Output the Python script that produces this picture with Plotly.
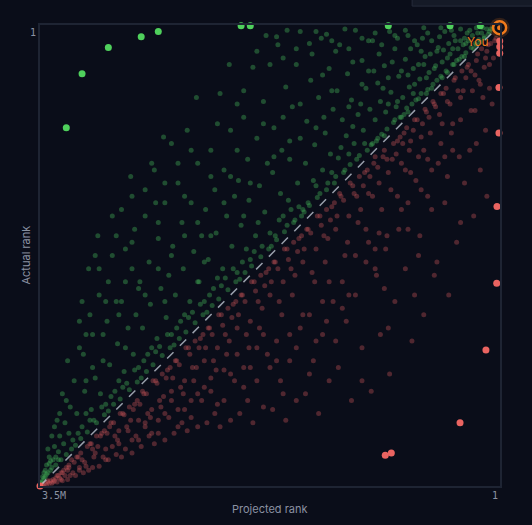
import plotly.graph_objects as go

# ranks in millions (0 = rank 1, 3.5 = rank 3.5M)
RANK_MAX = 3.5

green_pts = [
    (0.05,0.02),(0.08,0.05),(0.10,0.03),(0.12,0.09),(0.14,0.06),(0.16,0.11),(0.18,0.02),(0.19,0.14),(0.21,0.08),(0.22,0.17),(0.24,0.12),(0.23,0.04),
    (0.26,0.21),(0.27,0.10),(0.29,0.24),(0.30,0.03),(0.32,0.18),(0.33,0.27),(0.35,0.08),(0.36,0.30),(0.38,0.22),(0.39,0.14),(0.41,0.35),(0.42,0.05),(0.44,0.28),(0.45,0.39),(0.47,0.17),(0.48,0.42),(0.49,0.31),
    (0.51,0.45),(0.52,0.12),(0.54,0.36),(0.55,0.49),(0.57,0.24),(0.58,0.02),(0.60,0.52),(0.61,0.41),(0.63,0.15),(0.64,0.57),(0.66,0.33),(0.67,0.60),(0.69,0.47),(0.70,0.08),(0.71,0.63),(0.72,0.26),(0.74,0.55),(0.73,0.68),
    (0.76,0.70),(0.77,0.39),(0.79,0.62),(0.80,0.18),(0.81,0.74),(0.83,0.51),(0.84,0.05),(0.86,0.79),(0.87,0.66),(0.88,0.31),(0.90,0.83),(0.91,0.58),(0.93,0.44),(0.94,0.88),(0.95,0.72),(0.97,0.12),(0.98,0.91),(0.99,0.64),(0.92,0.22),(0.85,0.60),
    (1.01,0.95),(1.02,0.48),(1.04,0.80),(1.05,0.27),(1.07,0.99),(1.08,0.68),(1.10,0.04),(1.11,0.90),(1.13,0.57),(1.14,1.06),(1.16,0.37),(1.17,0.84),(1.19,1.12),(1.20,0.72),(1.22,0.15),(1.23,1.01),(1.24,0.50),(1.12,0.77),(1.06,0.60),(1.21,0.93),
    (1.26,1.20),(1.27,0.64),(1.29,0.98),(1.30,0.33),(1.32,1.25),(1.33,0.82),(1.35,1.10),(1.36,0.10),(1.38,0.55),(1.39,1.31),(1.41,0.91),(1.42,1.18),(1.44,0.42),(1.45,1.37),(1.47,0.73),(1.48,1.05),(1.49,1.42),(1.34,0.70),(1.43,0.22),(1.28,1.12),
    (1.51,1.45),(1.52,0.86),(1.54,1.20),(1.55,0.30),(1.57,1.50),(1.58,0.62),(1.60,1.02),(1.61,1.33),(1.63,0.47),(1.64,1.57),(1.66,0.95),(1.67,1.28),(1.69,0.15),(1.70,1.63),(1.72,0.78),(1.73,1.12),(1.74,1.68),(1.59,1.40),(1.68,1.48),(1.62,0.04),
    (1.76,1.70),(1.77,1.05),(1.79,1.42),(1.80,0.58),(1.82,1.76),(1.83,1.22),(1.85,0.86),(1.86,1.60),(1.88,0.32),(1.89,1.83),(1.91,1.33),(1.92,1.02),(1.94,1.88),(1.95,0.70),(1.97,1.52),(1.98,1.93),(1.99,1.18),(1.84,1.50),(1.93,1.70),(1.78,0.08),
    (2.01,1.95),(2.02,1.30),(2.04,1.68),(2.05,0.80),(2.07,2.01),(2.08,1.45),(2.10,1.10),(2.11,1.85),(2.13,0.52),(2.14,2.08),(2.16,1.58),(2.17,1.25),(2.19,2.13),(2.20,0.95),(2.22,1.78),(2.23,2.18),(2.24,1.40),(2.09,1.92),(2.18,2.00),(2.06,0.30),
    (2.26,2.20),(2.27,1.60),(2.29,1.95),(2.30,1.05),(2.32,2.26),(2.33,1.72),(2.35,1.35),(2.36,2.10),(2.38,0.80),(2.39,2.33),(2.41,1.85),(2.42,1.50),(2.44,2.38),(2.45,1.20),(2.47,2.05),(2.48,2.43),(2.49,1.68),(2.34,2.18),(2.43,2.25),(2.31,0.55),
    (2.51,2.45),(2.52,1.90),(2.54,2.22),(2.55,1.35),(2.57,2.51),(2.58,2.00),(2.60,1.62),(2.61,2.38),(2.63,1.10),(2.64,2.58),(2.66,2.12),(2.67,1.80),(2.69,2.63),(2.70,1.45),(2.72,2.30),(2.73,2.68),(2.74,1.95),(2.59,2.44),(2.68,2.50),(2.56,0.85),
    (2.76,2.71),(2.77,2.20),(2.79,2.50),(2.80,1.65),(2.82,2.77),(2.83,2.30),(2.85,1.95),(2.86,2.63),(2.88,1.40),(2.89,2.84),(2.91,2.42),(2.92,2.10),(2.94,2.88),(2.95,1.75),(2.97,2.58),(2.98,2.93),(2.99,2.25),(2.84,2.72),(2.93,2.78),(2.81,1.15),
    (3.01,2.96),(3.02,2.55),(3.04,2.80),(3.05,2.05),(3.07,3.02),(3.08,2.68),(3.10,2.35),(3.11,2.92),(3.13,1.85),(3.14,3.09),(3.16,2.78),(3.17,2.50),(3.19,3.14),(3.20,2.25),(3.22,2.95),(3.23,3.19),(3.24,2.70),(3.09,3.00),(3.18,3.05),(3.06,1.60),
    (3.26,3.22),(3.27,2.90),(3.28,3.10),(3.29,2.55),(3.30,3.26),(3.31,3.02),(3.32,3.18),(3.33,2.80),(3.34,3.30),(3.35,3.12),(3.36,3.24),(3.37,3.00),(3.38,3.34),(3.39,3.20),(3.40,3.30),(3.41,3.12),(3.42,3.38),(3.43,3.28),(3.44,3.40),(3.45,3.34),(3.46,3.43),(3.47,3.40),(3.48,3.46),(3.44,3.22),(3.39,3.05),(3.35,2.95),(3.49,3.47),
    # denser top-right area
    (0.04,0.01),(0.07,0.03),(0.09,0.07),(0.13,0.02),(0.15,0.13),(0.17,0.06),(0.20,0.18),(0.25,0.06),(0.28,0.15),(0.31,0.26),(0.34,0.12),(0.37,0.04),(0.40,0.25),(0.43,0.19),(0.46,0.09),
    (0.50,0.33),(0.53,0.22),(0.56,0.40),(0.59,0.10),(0.62,0.30),(0.65,0.45),(0.68,0.18),(0.75,0.35),(0.78,0.10),(0.82,0.28),(0.89,0.48),(0.96,0.35),(0.30,0.12),(0.45,0.02),(0.60,0.20),
    (0.55,0.06),(0.65,0.12),(0.80,0.08),(0.90,0.15),(1.05,0.10),(1.15,0.18),(1.28,0.12),(1.40,0.05),(1.55,0.18),(1.75,0.30),(0.85,0.40),(1.00,0.35),(1.12,0.28),(0.70,0.38),(0.58,0.30),
    (0.48,0.20),(0.36,0.18),(0.26,0.14),(0.66,0.52),(0.78,0.58),(0.12,0.10),(0.18,0.15),(0.27,0.24),(0.35,0.30),(0.44,0.40),(0.52,0.48),(0.62,0.56),(0.70,0.66),(0.80,0.72),(0.88,0.84),
    (0.97,0.90),(0.40,0.36),(0.56,0.52),(0.75,0.70),(0.93,0.86),
    # close to the diagonal
    (1.03,0.90),(1.09,1.02),(1.15,0.98),(1.18,1.10),(1.25,1.15),(1.31,1.20),(1.37,1.28),(1.40,1.22),(1.46,1.35),(1.50,1.40),(1.53,1.38),(1.56,1.48),(1.62,1.52),(1.65,1.45),(1.71,1.60),(1.75,1.58),
    (1.81,1.68),(1.87,1.72),(1.90,1.78),(1.96,1.80),(2.00,1.88),(2.03,1.85),(2.12,1.98),(2.15,1.92),(2.21,2.05),(2.25,2.10),(2.28,2.12),(2.37,2.22),(2.40,2.20),(2.46,2.30),(2.50,2.35),
    (2.53,2.35),(2.62,2.48),(2.65,2.45),(2.71,2.55),(2.75,2.60),(2.78,2.62),(2.87,2.75),(2.90,2.70),(2.96,2.82),(3.00,2.88),(3.03,2.90),(3.12,3.00),(3.15,2.95),(3.21,3.10),(3.25,3.15),
    # mid field
    (1.05,0.45),(1.15,0.62),(1.28,0.50),(1.40,0.78),(1.52,0.60),(1.60,0.88),(1.72,1.00),(1.80,0.75),(1.90,1.20),(2.00,0.95),(2.10,1.35),(2.20,1.15),(2.30,1.50),(2.40,1.30),(2.50,1.75),
    (2.60,1.50),(2.70,2.05),(2.80,1.85),(2.90,2.20),(3.00,2.10),(3.10,2.60),(3.20,2.45),(1.35,0.38),(1.65,0.70),(1.95,1.45),(2.25,1.80),(2.55,2.10),(2.85,2.45),(3.15,2.70),(3.30,2.85),
    (0.72,0.04),(0.95,0.06),(1.18,0.03),(1.32,0.07),(1.52,0.05),(1.70,0.09),(1.00,0.12),(1.25,0.20),(1.45,0.14),(1.65,0.25),
    (2.35,0.95),(2.45,1.05),(2.55,1.20),(2.62,1.35),(2.70,1.25),(2.78,1.55),(2.85,1.70),(2.92,1.60),(2.98,1.95),(3.05,1.85),(3.12,2.20),(3.18,2.10),(2.50,0.90),(2.65,1.05),(2.80,1.30),
    (2.95,1.45),(3.08,1.75),(3.15,2.35),(2.40,1.60),(2.60,1.85),(2.75,2.00),(2.88,2.10),(3.02,2.35),(2.20,1.60),(2.30,1.95),(2.05,1.15),(2.15,0.75),(1.95,0.50),(1.85,0.20),(2.00,0.60),
    (3.38,3.28),(3.41,3.36),(3.43,3.33),(3.45,3.41),(3.46,3.38),(3.47,3.44),(3.48,3.43),(3.49,3.48),(3.42,3.31),(3.36,3.30),
]

red_pts = [
    (0.03,0.10),(0.05,0.25),(0.07,0.14),(0.08,0.48),(0.10,0.20),(0.11,0.80),(0.12,0.32),(0.14,0.18),(0.15,1.10),(0.16,0.42),(0.18,0.27),(0.19,0.65),(0.20,1.45),(0.22,0.35),(0.23,0.95),(0.24,0.30),(0.06,0.60),(0.13,0.55),(0.21,0.50),
    (0.26,0.40),(0.27,1.20),(0.29,0.35),(0.30,0.72),(0.32,0.50),(0.33,1.65),(0.35,0.42),(0.36,0.95),(0.38,0.60),(0.39,2.05),(0.41,0.48),(0.42,1.35),(0.44,0.75),(0.45,0.52),(0.47,1.05),(0.48,1.80),(0.49,0.62),(0.37,0.82),(0.31,1.00),
    (0.51,0.58),(0.52,1.40),(0.54,0.70),(0.55,1.02),(0.57,0.64),(0.58,2.20),(0.60,0.85),(0.61,1.60),(0.63,0.72),(0.64,1.18),(0.66,0.80),(0.67,2.40),(0.69,0.95),(0.70,1.35),(0.71,0.78),(0.72,1.85),(0.74,0.90),(0.62,1.00),(0.68,1.12),
    (0.76,0.85),(0.77,1.55),(0.79,0.98),(0.80,2.10),(0.81,0.90),(0.83,1.25),(0.84,2.65),(0.86,1.02),(0.87,1.70),(0.88,0.95),(0.90,1.40),(0.91,2.35),(0.93,1.08),(0.94,1.90),(0.95,1.00),(0.97,1.30),(0.98,2.78),(0.99,1.15),(0.85,1.12),(0.92,1.58),
    (1.01,1.10),(1.02,1.80),(1.04,1.22),(1.05,2.45),(1.07,1.15),(1.08,1.50),(1.10,2.05),(1.11,1.28),(1.13,2.85),(1.14,1.20),(1.16,1.65),(1.17,2.25),(1.19,1.33),(1.20,1.95),(1.22,1.28),(1.23,2.60),(1.24,1.45),(1.06,1.40),(1.18,1.75),
    (1.26,1.35),(1.27,2.10),(1.29,1.48),(1.30,2.70),(1.32,1.40),(1.33,1.80),(1.35,2.35),(1.36,1.52),(1.38,2.95),(1.39,1.45),(1.41,1.95),(1.42,2.55),(1.44,1.58),(1.45,2.20),(1.47,1.55),(1.48,2.80),(1.49,1.70),(1.31,1.62),(1.43,1.88),
    (1.51,1.60),(1.52,2.30),(1.54,1.72),(1.55,2.85),(1.57,1.65),(1.58,2.05),(1.60,2.55),(1.61,1.78),(1.63,3.00),(1.64,1.70),(1.66,2.20),(1.67,2.70),(1.69,1.85),(1.70,2.40),(1.72,1.80),(1.73,2.92),(1.74,1.95),(1.56,1.90),(1.68,2.10),
    (1.76,1.85),(1.77,2.50),(1.79,1.98),(1.80,2.90),(1.82,1.90),(1.83,2.30),(1.85,2.70),(1.86,2.02),(1.88,3.02),(1.89,1.95),(1.91,2.45),(1.92,2.85),(1.94,2.10),(1.95,2.60),(1.97,2.05),(1.98,2.95),(1.99,2.20),(1.81,2.15),(1.93,2.35),
    (2.01,2.10),(2.02,2.70),(2.04,2.22),(2.05,3.00),(2.07,2.15),(2.08,2.50),(2.10,2.85),(2.11,2.28),(2.13,3.05),(2.14,2.20),(2.16,2.62),(2.17,2.95),(2.19,2.35),(2.20,2.78),(2.22,2.30),(2.23,3.02),(2.24,2.45),(2.06,2.40),(2.18,2.55),
    (2.26,2.35),(2.27,2.85),(2.29,2.45),(2.30,3.05),(2.32,2.40),(2.33,2.70),(2.35,2.98),(2.36,2.50),(2.38,3.08),(2.39,2.45),(2.41,2.80),(2.42,3.02),(2.44,2.58),(2.45,2.92),(2.47,2.55),(2.48,3.10),(2.49,2.68),(2.31,2.60),(2.43,2.75),
    (2.51,2.60),(2.52,2.98),(2.54,2.68),(2.55,3.15),(2.57,2.65),(2.58,2.90),(2.60,3.10),(2.61,2.72),(2.63,3.18),(2.64,2.70),(2.66,2.98),(2.67,3.12),(2.69,2.80),(2.70,3.05),(2.72,2.78),(2.73,3.20),(2.74,2.88),(2.56,2.82),(2.68,2.95),
    (2.76,2.85),(2.77,3.12),(2.79,2.92),(2.80,3.25),(2.82,2.90),(2.83,3.08),(2.85,3.22),(2.86,2.96),(2.88,3.28),(2.89,2.95),(2.91,3.15),(2.92,3.26),(2.94,3.02),(2.95,3.20),(2.97,3.05),(2.98,3.30),(2.99,3.10),(2.81,3.00),(2.93,3.12),
    (3.01,3.08),(3.02,3.28),(3.04,3.12),(3.05,3.35),(3.07,3.12),(3.08,3.25),(3.10,3.36),(3.11,3.18),(3.13,3.38),(3.14,3.20),(3.16,3.32),(3.17,3.40),(3.19,3.25),(3.20,3.36),(3.22,3.28),(3.23,3.42),(3.24,3.32),(3.06,3.20),(3.18,3.30),
    (3.26,3.30),(3.27,3.42),(3.28,3.34),(3.29,3.45),(3.30,3.36),(3.31,3.42),(3.32,3.38),(3.33,3.46),(3.34,3.40),(3.35,3.44),(3.36,3.42),(3.37,3.47),(3.38,3.44),(3.39,3.46),(3.40,3.45),(3.41,3.48),(3.42,3.46),(3.43,3.48),(3.44,3.47),(3.45,3.49),(3.46,3.48),(3.47,3.49),(3.29,3.38),(3.33,3.40),
    # close to the diagonal
    (0.02,0.05),(0.04,0.12),(0.09,0.15),(0.11,0.25),(0.17,0.22),(0.19,0.38),(0.25,0.32),(0.28,0.50),(0.34,0.40),(0.40,0.58),(0.43,0.52),(0.46,0.68),(0.50,0.60),(0.53,0.82),(0.56,0.66),
    (0.59,0.75),(0.65,0.72),(0.68,0.88),(0.73,0.82),(0.75,1.05),(0.78,0.88),(0.82,1.02),(0.89,1.00),(0.92,1.20),(0.96,1.05),(1.00,1.28),(1.03,1.12),(1.09,1.30),(1.12,1.22),(1.15,1.45),
    (1.21,1.30),(1.25,1.55),(1.28,1.38),(1.34,1.60),(1.37,1.45),(1.40,1.70),(1.46,1.55),(1.50,1.80),(1.53,1.62),(1.59,1.85),(1.62,1.70),(1.65,1.95),(1.71,1.80),(1.75,2.05),(1.78,1.88),
    (1.84,2.10),(1.87,1.95),(1.90,2.25),(1.96,2.05),(2.00,2.30),(2.03,2.12),(2.09,2.35),(2.12,2.20),(2.15,2.45),(2.21,2.30),(2.25,2.55),(2.28,2.38),(2.34,2.60),(2.37,2.45),(2.40,2.70),
    (2.46,2.55),(2.50,2.78),(2.53,2.62),(2.59,2.85),(2.62,2.70),(2.65,2.92),(2.71,2.80),(2.75,3.00),(2.78,2.88),(2.84,3.05),(2.87,2.95),(2.90,3.18),(2.96,3.02),(3.00,3.22),(3.03,3.10),
    (3.09,3.28),(3.12,3.18),(3.15,3.35),(3.21,3.28),(3.25,3.40),(3.28,3.36),(3.34,3.45),(3.37,3.42),(3.40,3.47),(3.44,3.46),(3.48,3.49),
    # tail
    (0.10,1.30),(0.18,0.90),(0.30,1.50),(0.40,1.15),(0.50,1.90),(0.55,1.30),(0.65,2.05),(0.75,1.40),(0.85,2.30),(0.95,1.70),(1.05,2.70),(1.15,2.05),(1.25,2.40),(1.35,2.10),(1.45,2.65),
    (1.55,2.45),(1.65,2.80),(1.75,2.60),(1.85,2.45),(1.95,2.75),(2.05,2.65),(2.15,2.88),(2.25,2.75),(2.35,2.85),(2.45,3.05),(2.55,2.95),(2.65,3.10),(2.75,3.15),(0.62,1.75),(0.88,2.00),
    (0.08,0.30),(0.15,0.45),(0.22,0.65),(0.30,0.55),(0.36,0.75),(0.45,0.90),(0.52,1.10),(0.60,1.25),(0.70,1.55),(0.78,1.30),(0.86,1.60),(0.95,1.85),(1.02,1.55),(1.10,1.75),(1.20,2.15),
    (1.30,1.95),(1.40,2.40),(1.50,2.20),(1.60,2.35),(1.70,2.55),(1.80,2.35),(1.90,2.60),(2.00,2.50),(2.10,2.62),(2.20,2.68),(2.30,2.80),(2.40,2.92),(2.50,2.85),(2.60,3.00),(2.70,3.02),
    (2.80,3.15),(2.90,3.08),(3.00,3.30),(3.10,3.22),(3.20,3.38),(0.42,1.00),(0.58,0.95),(0.72,1.10),(1.00,1.65),(1.32,2.25),
]

# highlighted outliers
green_hi_proj = [3.30, 3.18, 2.98, 2.73, 2.60, 1.97, 1.90, 0.85, 0.38, 0.15]
green_hi_act = [0.78, 0.37, 0.17, 0.09, 0.05, 0.005, 0.005, 0.005, 0.005, 0.005]
red_hi_proj = [0.002, 0.002, 0.002, 0.008, 0.008, 0.023, 0.025, 0.107, 0.304, 0.827, 0.873, 3.5]
red_hi_act = [0.121, 0.165, 0.215, 0.475, 0.820, 1.378, 1.961, 2.467, 3.019, 3.249, 3.267, 3.5]

you_proj = [0.003]
you_act = [0.02]

BG = "#0a0d19"
FRAME = "#1e2433"
TXT = "#8a91a2"
ORANGE = "#f07a1c"

fig = go.Figure()

fig.add_trace(go.Scatter(
    x=[p[0] for p in green_pts], y=[p[1] for p in green_pts], mode="markers",
    marker=dict(size=5, color="rgba(65,175,85,0.40)", line=dict(width=0)),
    hoverinfo="skip"))
fig.add_trace(go.Scatter(
    x=[p[0] for p in red_pts], y=[p[1] for p in red_pts], mode="markers",
    marker=dict(size=5, color="rgba(205,85,90,0.36)", line=dict(width=0)),
    hoverinfo="skip"))

# diagonal: projected == actual
fig.add_trace(go.Scatter(
    x=[RANK_MAX, 0], y=[RANK_MAX, 0], mode="lines",
    line=dict(color="rgba(200,208,220,0.75)", width=1.5, dash="dash"),
    hoverinfo="skip"))

fig.add_trace(go.Scatter(
    x=green_hi_proj, y=green_hi_act, mode="markers",
    marker=dict(size=7, color="#4fd05c"), hoverinfo="skip", cliponaxis=False))
fig.add_trace(go.Scatter(
    x=red_hi_proj, y=red_hi_act, mode="markers",
    marker=dict(size=7, color="#ea6461"), hoverinfo="skip", cliponaxis=False))

fig.add_trace(go.Scatter(
    x=you_proj, y=you_act, mode="markers",
    marker=dict(size=20, color="rgba(240,122,28,0.18)"),
    hoverinfo="skip", cliponaxis=False))
fig.add_trace(go.Scatter(
    x=you_proj, y=you_act, mode="markers",
    marker=dict(size=13, color=BG, line=dict(color=ORANGE, width=2.5)),
    hoverinfo="skip", cliponaxis=False))
fig.add_trace(go.Scatter(
    x=you_proj, y=you_act, mode="markers",
    marker=dict(size=5, color=ORANGE), hoverinfo="skip", cliponaxis=False))

fig.update_layout(
    width=532, height=525,
    margin=dict(l=40, r=32, t=25, b=39),
    paper_bgcolor=BG, plot_bgcolor=BG,
    showlegend=False,
    xaxis=dict(range=[RANK_MAX, 0], showgrid=False, zeroline=False, showticklabels=False,
               showline=True, linecolor=FRAME, linewidth=2, mirror=True),
    yaxis=dict(range=[RANK_MAX, 0], showgrid=False, zeroline=False, showticklabels=False,
               showline=True, linecolor=FRAME, linewidth=2, mirror=True),
    shapes=[dict(type="rect", xref="paper", yref="paper", x0=0.809, x1=1.2, y0=1.041, y1=1.2,
                 fillcolor="#151a27", line=dict(color="#262c3b", width=1))],
    annotations=[
        dict(x=you_proj[0], y=you_act[0], xref="x", yref="y", text="You", showarrow=False,
             xshift=-22, yshift=-14, font=dict(family="Inter", size=12, color=ORANGE)),
        dict(x=RANK_MAX, y=RANK_MAX, xref="x", yref="y", text="3.5M", showarrow=False,
             xanchor="left", yanchor="top", yshift=-2,
             font=dict(family="DejaVu Sans Mono", size=10, color=TXT)),
        dict(x=0, y=RANK_MAX, xref="x", yref="y", text="1", showarrow=False,
             xanchor="right", yanchor="top", yshift=-2,
             font=dict(family="DejaVu Sans Mono", size=10, color=TXT)),
        dict(x=RANK_MAX, y=0, xref="x", yref="y", text="1", showarrow=False,
             xanchor="right", yanchor="top", xshift=-2, yshift=0,
             font=dict(family="DejaVu Sans Mono", size=10, color=TXT)),
        dict(x=0.5, y=0, xref="paper", yref="paper", text="Projected rank", showarrow=False,
             yanchor="middle", yshift=-23, font=dict(family="Inter", size=11, color=TXT)),
        dict(x=0, y=0.5, xref="paper", yref="paper", text="Actual rank", showarrow=False,
             xanchor="center", xshift=-15, textangle=-90,
             font=dict(family="Inter", size=11, color=TXT)),
    ],
)

fig.write_html("out.html", config={"displayModeBar": False}, post_script=(
    "document.body.style.margin='0';"
    "document.body.style.background='" + BG + "';"))
